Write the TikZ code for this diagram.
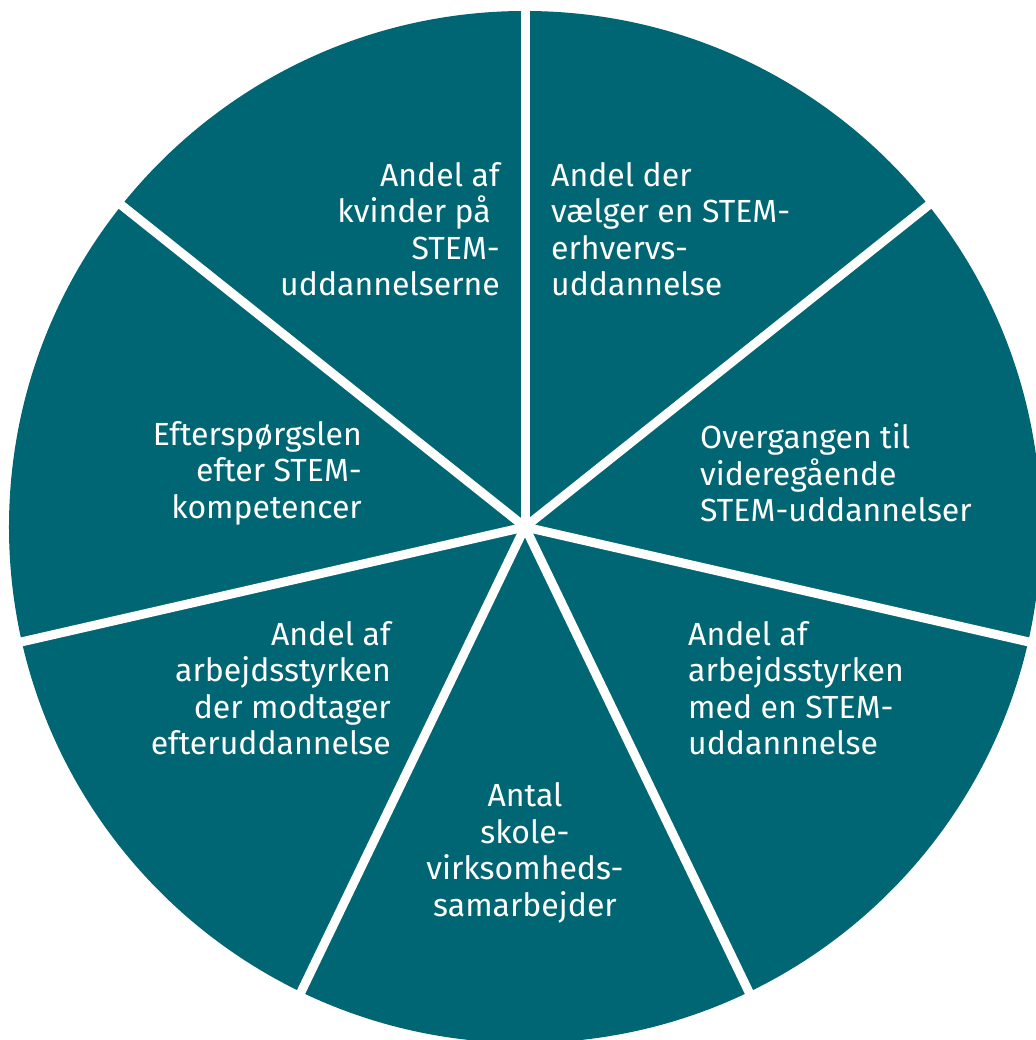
\documentclass[tikz,border=0pt]{standalone}
\usepackage{fontspec}
\setmainfont{Fira Sans}
\definecolor{petrol}{RGB}{0,102,116}
\begin{document}
\begin{tikzpicture}[x=1pt, y=1pt,
  skille/.style={draw=white, line width=9pt},
  felt/.style={text=white, inner sep=0pt, font=\fontsize{32}{36.5}\selectfont}]
\useasboundingbox (-525,-513) rectangle (510,527);
% Cirklen
\coordinate (midte) at (0,0);
\fill[petrol] (midte) circle (516);

% Skillelinjer mellem de syv felter
\foreach \v in {90,38.571,-12.857,-64.286,-115.714,-167.143,141.429}
  \draw[skille] (midte) -- ++(\v:535);

% Tekster, med uret fra toppen
\node[felt, anchor=west, align=left] (erhverv) at (26,298)
  {Andel der\\vælger en STEM-\\erhvervs-\\uddannelse};
\node[felt, anchor=west, align=left] (overgang) at (175,54)
  {Overgangen til\\videregående\\STEM-uddannelser};
\node[felt, anchor=west, align=left] (medstem) at (163,-161)
  {Andel af\\arbejdsstyrken\\med en STEM-\\uddannnelse};
\node[felt, align=center] (samarb) at (0,-326)
  {Antal\\skole-\\virksomheds-\\samarbejder};
\node[felt, anchor=east, align=right] (efterudd) at (-134,-161)
  {Andel af\\arbejdsstyrken\\der modtager\\efteruddannelse};
\node[felt, anchor=east, align=right] (efterspg) at (-163,54)
  {Efterspørgslen\\efter STEM-\\kompetencer};
\node[felt, anchor=east, align=right] (kvinder) at (-25,298)
  {Andel af\\kvinder på\kern9pt\\STEM-\\uddannelserne};

\end{tikzpicture}
\end{document}
